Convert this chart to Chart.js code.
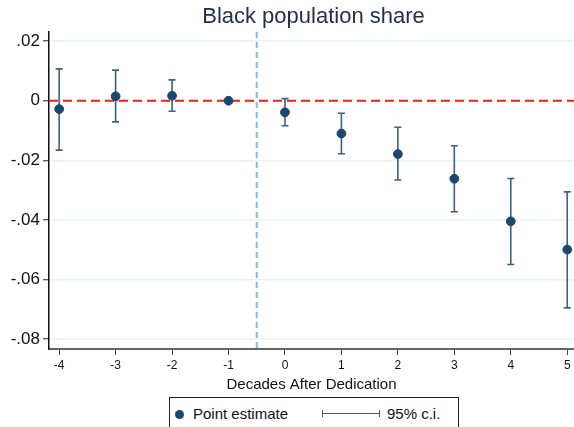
<!DOCTYPE html>
<html>
<head>
<meta charset="utf-8">
<script src="https://cdn.jsdelivr.net/npm/chart.js@4.4.1/dist/chart.umd.min.js"></script>
<style>
  body { margin: 0; background: #fff; }
  #wrap { position: relative; width: 574px; height: 427px; overflow: hidden; font-family: "Liberation Sans", Arial, sans-serif; }
  #legend { position: absolute; left: 169px; top: 397px; width: 288px; height: 40px; border: 1px solid #222; background: #fff; }
  #legend span { position: absolute; font-size: 15px; color: #111; top: 7px; }
  .dot { position: absolute; left: 5px; top: 12px; width: 9px; height: 9px; border-radius: 50%; background: #1a476f; }
  .ci { position: absolute; left: 152px; top: 15px; width: 58px; height: 0; border-top: 1.5px solid #3d6185; }
  .ci:before, .ci:after { content: ""; position: absolute; top: -4px; width: 0; height: 7px; border-left: 1.5px solid #3d6185; }
  .ci:before { left: 0; }
  .ci:after { right: 0; }
</style>
</head>
<body>
<div id="wrap">
  <canvas id="chart" width="574" height="427"></canvas>
  <div id="legend">
    <div class="dot"></div><span style="left:23px">Point estimate</span>
    <div class="ci"></div><span style="left:217px">95% c.i.</span>
  </div>
</div>
<script>
// decades relative to dedication
const decades = [-4, -3, -2, -1, 0, 1, 2, 3, 4, 5];
const estimate = [-0.0028, 0.0015, 0.0017, 0, -0.0039, -0.0110, -0.0179, -0.0262, -0.0405, -0.0500];
const ciLow = [-0.0166, -0.0071, -0.0035, null, -0.0084, -0.0178, -0.0266, -0.0373, -0.0550, -0.0696];
const ciHigh = [0.0107, 0.0103, 0.0070, null, 0.0007, -0.0042, -0.0089, -0.0151, -0.0261, -0.0306];

const yTickValues = [0.02, 0, -0.02, -0.04, -0.06, -0.08];
const yTickLabels = [".02", "0", "-.02", "-.04", "-.06", "-.08"];
const xTickValues = [-4, -3, -2, -1, 0, 1, 2, 3, 4, 5];

const zeroLine = 0;
const dedicationLine = -0.5;

Chart.defaults.font.family = '"Liberation Sans", Arial, sans-serif';
Chart.defaults.color = "#111";

const navy = "#1a476f";

const extras = {
  id: "extras",
  beforeDatasetDraw(chart, args) {
    if (args.index !== 0) return;
    const { ctx, chartArea: a } = chart;
    const xs = chart.scales.x, ys = chart.scales.y;
    ctx.save();
    // vertical dashed line
    ctx.strokeStyle = "#7fbde8";
    ctx.lineWidth = 2;
    ctx.setLineDash([6, 4]);
    const vx = xs.getPixelForValue(dedicationLine);
    ctx.beginPath(); ctx.moveTo(vx, a.top); ctx.lineTo(vx, a.bottom); ctx.stroke();
    // zero line
    ctx.strokeStyle = "#f01e1e";
    ctx.setLineDash([9, 5]);
    const zy = ys.getPixelForValue(zeroLine);
    ctx.beginPath(); ctx.moveTo(a.left, zy); ctx.lineTo(a.right, zy); ctx.stroke();
    // confidence intervals
    ctx.setLineDash([]);
    ctx.strokeStyle = "#3d6185";
    ctx.lineWidth = 1.6;
    decades.forEach((d, i) => {
      if (ciLow[i] === null) return;
      const x = xs.getPixelForValue(d);
      const y1 = ys.getPixelForValue(ciLow[i]);
      const y2 = ys.getPixelForValue(ciHigh[i]);
      ctx.beginPath();
      ctx.moveTo(x, y1); ctx.lineTo(x, y2);
      ctx.moveTo(x - 3.5, y1); ctx.lineTo(x + 3.5, y1);
      ctx.moveTo(x - 3.5, y2); ctx.lineTo(x + 3.5, y2);
      ctx.stroke();
    });
    ctx.restore();
  },
  afterDraw(chart) {
    const { ctx, chartArea: a } = chart;
    ctx.save();
    ctx.font = '22px "Liberation Sans", Arial, sans-serif';
    ctx.fillStyle = "#1e2d4f";
    ctx.textAlign = "center";
    ctx.textBaseline = "middle";
    ctx.fillText("Black population share", (a.left + a.right) / 2 + 2, 17);
    ctx.restore();
  }
};

new Chart(document.getElementById("chart"), {
  type: "scatter",
  data: {
    datasets: [
      {
        label: "Point estimate",
        data: decades.map((d, i) => ({ x: d, y: estimate[i] })),
        backgroundColor: navy,
        borderColor: navy,
        pointRadius: 4.4,
        pointHoverRadius: 4.4,
        clip: 10,
      },
    ],
  },
  options: {
    responsive: false,
    animation: false,
    layout: { autoPadding: false, padding: { top: 32, bottom: 33, left: 0, right: 0 } },
    plugins: {
      legend: { display: false },
      tooltip: { enabled: false },
      title: { display: false },
    },
    scales: {
      x: {
        type: "linear",
        min: -4.18,
        max: 5.12,
        afterBuildTicks: s => { s.ticks = xTickValues.map(v => ({ value: v })); },
        afterFit: s => { s.height = 45; s.paddingLeft = 0; s.paddingRight = 0; },
        grid: { drawOnChartArea: false, drawTicks: true, tickLength: 6, tickColor: "#444", tickWidth: 1 },
        border: { color: "#666", width: 2 },
        ticks: { font: { size: 12 }, padding: 3, maxRotation: 0, callback: v => String(v) },
        title: { display: true, text: "Decades After Dedication", font: { size: 15 }, padding: 0, color: "#111" },
      },
      y: {
        min: -0.0834,
        max: 0.0231,
        afterBuildTicks: s => { s.ticks = yTickValues.map(v => ({ value: v })); },
        afterFit: s => { s.width = 49; s.paddingTop = 0; s.paddingBottom = 0; },
        grid: { color: "#eaf2f3", lineWidth: 1.5, drawTicks: true, tickLength: 6, tickColor: "#222", tickWidth: 1 },
        border: { color: "#111", width: 1.5 },
        ticks: { font: { size: 17 }, padding: 3, callback: (v, i) => yTickLabels[i] },
      },
    },
  },
  plugins: [extras],
});
</script>
</body>
</html>
